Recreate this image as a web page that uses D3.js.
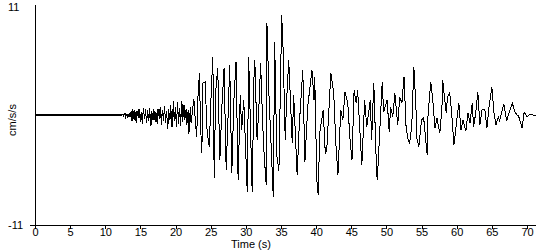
<!DOCTYPE html>
<html>
<head>
<meta charset="utf-8">
<script src="https://cdn.jsdelivr.net/npm/d3@7"></script>
<style>
  body { margin: 0; background: #fff; }
  svg text { font-family: "Liberation Sans", Arial, sans-serif; font-size: 11px; fill: #000; }
</style>
</head>
<body>
<svg id="chart" width="550" height="250"></svg>
<script>
// accelerogram: time (s) and acceleration (cm/s/s)
var times = [
  0, 12.3, 12.5, 12.6, 12.8, 12.9, 13.1, 13.2, 13.4, 13.5, 13.7, 13.8, 13.9, 14.1, 14.2, 14.4,
  14.5, 14.7, 14.8, 15.0, 15.1, 15.3, 15.4, 15.6, 15.7, 15.9, 16.0, 16.2, 16.3, 16.5, 16.6,
  16.8, 16.9, 17.1, 17.2, 17.4, 17.5, 17.7, 17.8, 18.0, 18.1, 18.3, 18.4, 18.6, 18.7, 18.9,
  19.0, 19.2, 19.3, 19.5, 19.7, 19.8, 20.0, 20.1, 20.3, 20.4, 20.6, 20.7, 20.9, 21.0, 21.2,
  21.3, 21.5, 21.6, 21.8, 21.9, 22.1, 22.2, 22.4, 22.6, 22.8, 23.0, 23.2, 23.4, 23.5, 23.7,
  23.8, 23.9, 24.2, 24.5, 24.8, 25.0, 25.3, 25.5, 25.7, 26.0, 26.3, 26.6, 26.9, 27.2, 27.5,
  27.7, 28.0, 28.3, 28.6, 28.9, 29.2, 29.4, 29.7, 30.2, 30.4, 30.9, 31.2, 31.3, 31.6, 31.9,
  32.1, 32.4, 32.6, 32.9, 33.0, 33.3, 33.6, 33.9, 34.1, 34.4, 34.7, 35.1, 35.3, 35.6, 35.8,
  36.1, 36.6, 36.8, 37.3, 37.6, 38.1, 38.4, 38.8, 39.4, 39.7, 39.8, 40.1, 40.3, 40.5, 41.0,
  41.3, 41.5, 41.8, 42.1, 42.5, 42.8, 43.1, 43.5, 43.8, 44.1, 44.5, 44.8, 45.1, 45.4, 45.7,
  45.9, 46.5, 46.9, 47.2, 47.7, 47.9, 48.2, 48.6, 48.7, 49.4, 49.6, 50.1, 50.4, 50.6, 50.9,
  51.2, 51.5, 51.6, 51.9, 52.2, 52.5, 52.8, 53.1, 53.3, 53.6, 53.9, 54.2, 54.3, 54.6, 55.0,
  55.3, 55.8, 55.9, 56.3, 56.6, 56.9, 57.2, 57.3, 57.6, 57.9, 58.0, 58.5, 58.7, 59.0, 59.3,
  59.6, 59.9, 60.3, 60.6, 60.9, 61.3, 61.6, 61.9, 62.2, 62.4, 62.7, 63.0, 63.3, 63.6, 64.0,
  64.3, 64.6, 65.0, 65.3, 65.6, 65.9, 66.1, 66.7, 67.1, 67.4, 67.9, 68.3, 68.6, 68.8, 69.3,
  69.6, 70.0, 70.4, 70.8, 71.3
];
var accel = [
  0, 0, 0.1, -0.1, 0.2, -0.2, 0.1, -0.3, 0.2, -0.2, 0.4, -0.6, 0.6, -0.5, 0.5, -0.8,
  0.4, -0.3, 0.6, -0.7, 0.3, -0.9, 0.7, -0.4, 0.6, -0.8, 0.5, -0.6, 0.7, -1.1, 0.4,
  -0.5, 0.6, -0.7, 0.3, -0.9, 0.6, -0.4, 0.8, -1.0, 0.5, -0.6, 0.9, -0.8, 0.4, -1.4,
  0.6, -0.5, 1.0, -1.2, 1.4, -0.6, 0.8, -1.2, 1.3, -0.9, 0.7, -1.1, 1.4, -0.7, 1.0,
  -0.5, 0.6, -1.0, 0.5, -1.9, 0.8, -0.8, 0.4, 1.6, -0.5, -2.2, 2.0, 4.2, 0.5, -3.8,
  -2.0, 3.2, 3.3, -1.8, -3.2, 1.0, 5.8, -6.3, 2.3, 4.7, -4.5, 1.0, 4.7, -5.5, 0.5,
  5.0, -5.8, 1.5, 5.3, -6.5, 2.0, -1.5, 1.5, -7.7, 5.8, -7.7, 5.5, 4.8, -2.5, 1.5,
  5.2, -1.0, -4.0, -7.0, 9.2, 1.8, -3.2, -8.2, 7.3, -4.0, -5.6, 10.0, 6.5, -2.5, 1.5,
  5.5, -2.8, 2.0, -6.0, -1.0, 4.5, -4.7, 0.8, 4.5, 1.5, 3.8, -6.5, -8.0, -1.8, 0.5,
  -3.8, -3.6, 0.3, 4.2, 2.2, -2.8, -6.0, 0.5, -0.5, 2.3, 1.2, -2.3, -4.5, 2.5, 1.2,
  2.5, -5.0, 1.5, -1.2, 1.5, -2.5, 3.2, -5.7, -6.5, 3.3, 0.3, 1.5, -1.7, 0.8, -0.2,
  2.2, -0.2, -1.0, 1.8, 1.2, 3.8, -1.3, -2.5, -2.8, -1.2, 4.8, 0.8, -2.2, -3.2, -0.5,
  -0.3, -4.0, -0.2, 3.3, 1.5, -1.3, -0.3, -0.8, -1.8, 0.8, 3.5, 0.2, 1.8, 2.3, 0.0,
  -3.0, -1.2, 1.2, -1.5, -0.5, -1.6, 0.2, -0.8, 1.2, -1.2, 0.2, 2.3, -1.0, 0.5, 0.6,
  -1.3, 0.8, 2.8, 0.2, -1.0, -0.2, -0.6, 1.1, -0.6, 0.1, 1.2, 0.3, 0.0, -0.1, -1.3,
  0.3, -0.2, 0.1, 0.0, 0.0
];
var preEventEnd = 12.3;
var xTicks = [0, 5, 10, 15, 20, 25, 30, 35, 40, 45, 50, 55, 60, 65, 70];
var yLabels = [11, -11];

var svg = d3.select("#chart");

var x = d3.scaleLinear().domain([0, 71.28]).range([35, 536]);
var y = d3.scaleLinear().domain([-11, 11]).range([225, 5]);

var points = times.map(function (t, i) { return [t, accel[i]]; });

var line = d3.line()
    .x(function (d) { return x(d[0]); })
    .y(function (d) { return y(d[1]); });

// quiet part before the shaking, drawn heavier as in the original plot
svg.append("path")
    .datum(points.filter(function (d) { return d[0] <= preEventEnd; }))
    .attr("fill", "none")
    .attr("stroke", "#000")
    .attr("stroke-width", 2)
    .attr("shape-rendering", "crispEdges")
    .attr("transform", "translate(0,-0.5)")
    .attr("d", line);

// trace
svg.append("path")
    .datum(points)
    .attr("fill", "none")
    .attr("stroke", "#000")
    .attr("stroke-width", 1)
    .attr("shape-rendering", "crispEdges")
    .attr("d", line);

// x axis
var xAxis = svg.append("g")
    .attr("transform", "translate(0," + y(-11) + ")")
    .call(d3.axisBottom(x).tickValues(xTicks).tickSize(4).tickSizeOuter(0).tickFormat(d3.format("d")));
xAxis.select(".domain").remove();
xAxis.selectAll("line").attr("stroke", "#000").attr("shape-rendering", "crispEdges");
xAxis.selectAll("text").attr("dy", "0.55em").attr("y", 5);

svg.append("line")
    .attr("x1", 30).attr("x2", x(71.28))
    .attr("y1", y(-11) + 0.5).attr("y2", y(-11) + 0.5)
    .attr("stroke", "#000");

// y axis
svg.append("line")
    .attr("x1", x(0) + 0.5).attr("x2", x(0) + 0.5)
    .attr("y1", y(11)).attr("y2", y(-11))
    .attr("stroke", "#000");

svg.selectAll("text.ylab")
    .data(yLabels)
    .enter().append("text")
    .attr("class", "ylab")
    .attr("x", 8)
    .attr("y", function (d) { return y(d) + 4; })
    .attr("dy", function (d) { return d > 0 ? 2 : 0; })
    .text(function (d) { return d; });

// axis titles
svg.append("text")
    .attr("x", 251)
    .attr("y", 248)
    .attr("text-anchor", "middle")
    .text("Time (s)");

svg.append("text")
    .attr("transform", "translate(16,120) rotate(-90)")
    .attr("text-anchor", "middle")
    .text("cm/s/s");
</script>
</body>
</html>
